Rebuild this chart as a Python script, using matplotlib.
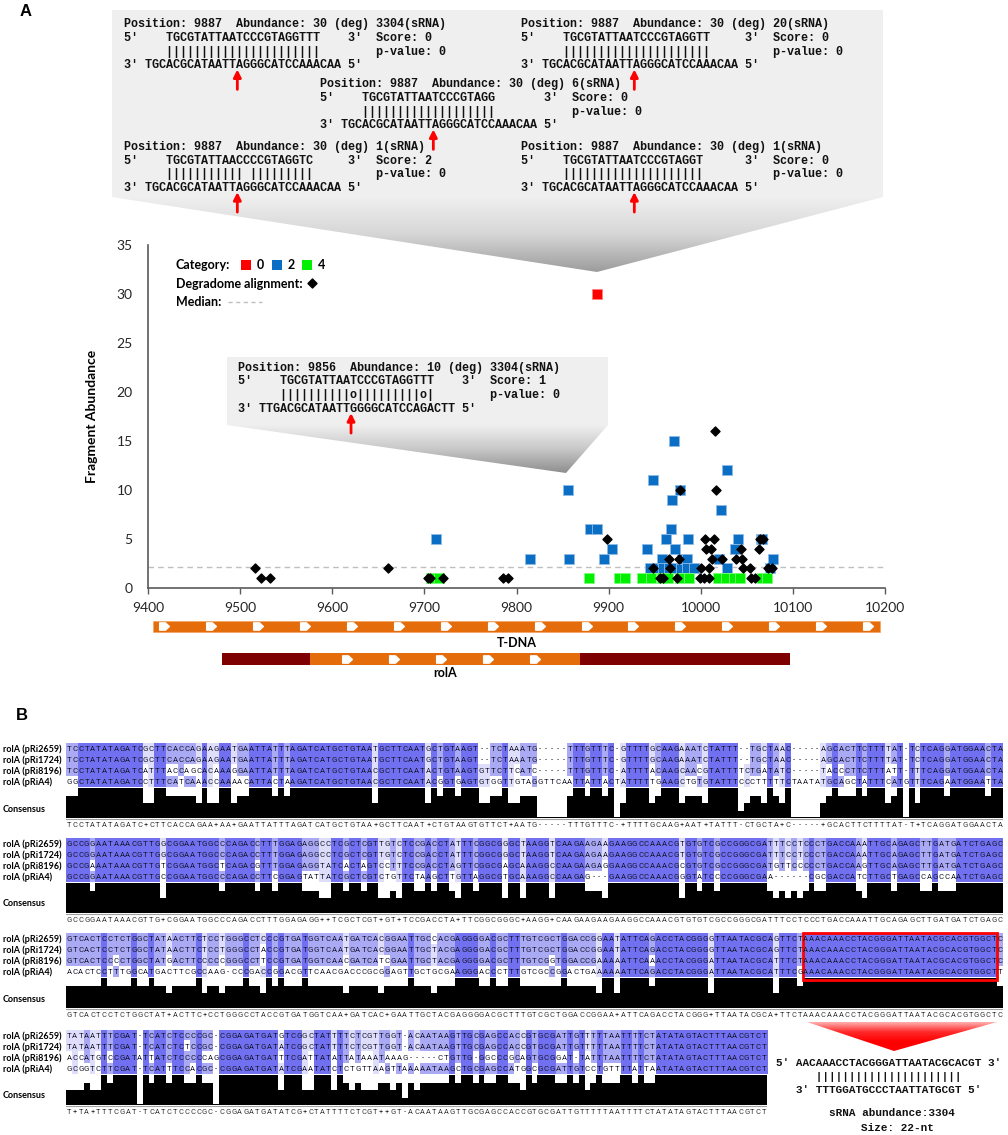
import numpy as np
import matplotlib
matplotlib.use("Agg")
import matplotlib.pyplot as plt
from matplotlib.patches import Rectangle, Polygon
from matplotlib.path import Path
from matplotlib.colors import LinearSegmentedColormap, to_rgb

plt.rcParams['font.family'] = ['Lato', 'DejaVu Sans']
W, H = 1008, 1135

# ---------------- panel A data ----------------
BLUE_POS = [9713, 9815, 9856, 9857, 9880, 9887, 9895, 9904, 9942, 9945, 9948, 9952, 9958, 9959,
            9962, 9966, 9968, 9969, 9971, 9972, 9972, 9978, 9979, 9980, 9985, 9985, 9986, 9993,
            10020, 10022, 10028, 10029, 10037, 10040, 10065, 10067, 10075, 10078]
BLUE_AB = [5, 3, 10, 3, 6, 6, 3, 4, 4, 2, 11, 2, 3, 2,
           5, 2, 6, 9, 15, 4, 2, 10, 2, 3, 3, 2, 5, 2,
           3, 8, 2, 12, 4, 5, 5, 5, 2, 3]
GREEN_POS = [9707, 9716, 9879, 9911, 9918, 9936, 9946, 9958, 9964, 9978, 9987,
             10019, 10027, 10036, 10043, 10066, 10072]
GREEN_AB = [1] * len(GREEN_POS)
RED_POS = [9887]
RED_AB = [30]
DEG_POS = [9516, 9523, 9532, 9660, 9704, 9706, 9720, 9785, 9791, 9898, 9948, 9956, 9959, 9965,
           9967, 9974, 9976, 9978, 9999, 10000, 10004, 10005, 10006, 10009, 10009, 10011, 10012,
           10014, 10016, 10017, 10023, 10038, 10044, 10045, 10046, 10054, 10055, 10059, 10063,
           10064, 10068, 10073, 10077]
DEG_AB = [2, 1, 1, 2, 1, 1, 1, 1, 1, 5, 2, 1, 1, 3,
          2, 1, 3, 10, 1, 2, 1, 5, 4, 1, 2, 4, 3,
          5, 16, 10, 3, 3, 4, 3, 2, 2, 1, 1, 4,
          5, 5, 2, 2]
MEDIAN = 2.1
X_TICKS = [9400, 9500, 9600, 9700, 9800, 9900, 10000, 10100, 10200]
Y_TICKS = [0, 5, 10, 15, 20, 25, 30, 35]
TDNA_SPAN = (9405, 10195)
ROLA_SEGS = [(9480, 9576, 'utr'), (9576, 9869, 'cds'), (9869, 10097, 'utr')]

# callout texts (degradome alignments)
CALLOUTS = [
    (124, 24, ["Position: 9887  Abundance: 30 (deg) 3304(sRNA)",
               "5'    TGCGTATTAATCCCGTAGGTTT    3'  Score: 0",
               "      ||||||||||||||||||||||        p-value: 0",
               "3' TGCACGCATAATTAGGGCATCCAAACAA 5'"]),
    (521, 24, ["Position: 9887  Abundance: 30 (deg) 20(sRNA)",
               "5'    TGCGTATTAATCCCGTAGGTT     3'  Score: 0",
               "      |||||||||||||||||||||         p-value: 0",
               "3' TGCACGCATAATTAGGGCATCCAAACAA 5'"]),
    (320, 84, ["Position: 9887  Abundance: 30 (deg) 6(sRNA)",
               "5'    TGCGTATTAATCCCGTAGG       3'  Score: 0",
               "      |||||||||||||||||||           p-value: 0",
               "3' TGCACGCATAATTAGGGCATCCAAACAA 5'"]),
    (124, 146.7, ["Position: 9887  Abundance: 30 (deg) 1(sRNA)",
                  "5'    TGCGTATTAACCCCGTAGGTC     3'  Score: 2",
                  "      ||||||||||| |||||||||         p-value: 0",
                  "3' TGCACGCATAATTAGGGCATCCAAACAA 5'"]),
    (521, 146.7, ["Position: 9887  Abundance: 30 (deg) 1(sRNA)",
                  "5'    TGCGTATTAATCCCGTAGGT      3'  Score: 0",
                  "      ||||||||||||||||||||          p-value: 0",
                  "3' TGCACGCATAATTAGGGCATCCAAACAA 5'"]),
    (237.7, 367.7, ["Position: 9856  Abundance: 10 (deg) 3304(sRNA)",
                    "5'    TGCGTATTAATCCCGTAGGTTT    3'  Score: 1",
                    "      ||||||||||o|||||||||o|        p-value: 0",
                    "3' TTGACGCATAATTGGGGCATCCAGACTT 5'"]),
]

# ---------------- panel B data ----------------
SEQ_NAMES = ['rolA (pRi2659)', 'rolA (pRi1724)', 'rolA (pRi8196)', 'rolA (pRiA4)']

B1_CONS = "TCCTATATAGATC+CTTCACCAGAA+AA+GAATTATTTAGATCATGCTGTAA+GCTTCAAT+CTGTAAGTGTTCT+AATG-----TTTGTTTC-+TTTTGCAAG+AAT+TATTT-CTGCTA+C-----+GCACTTCTTTTAT-T+TCAGGATGGAACTA"
B1_ROWS = [
    "TCCTATATAGATC G CTTCACCAGAA G AA T GAATTATTTAGATCATGCTGTAA T GCTTCAAT G CTGTAAGT--TCT A AATG ----- TTTGTTTC - G TTTTGCAAG A AAT C TATTT - -TGCTA A C ----- A GCACTTCTTTTAT - T C TCAGGATGGAACTA",
    "TCCTATATAGATC G CTTCACCAGAA G AA T GAATTATTTAGATCATGCTGTAA T GCTTCAAT G CTGTAAGT--TCT A AATG ----- TTTGTTTC - G TTTTGCAAG A AAT C TATTT - -TGCTA A C ----- A GCACTTCTTTTAT - T C TCAGGATGGAACTA",
    "TCCTATATAGATC A TTTACCAGCAC A AA G GAATTATTTAGATCATGCTGTAA C GCTTCAAT A CTGTAAGTGTTCT T CATC ----- TTTGTTTC - A TTTTACAAG C AAC G TATTT T CTGATA T C ----- T ACCCTTCTTTATT - T T TCAGGATGGAACTA",
    "GGCTATATAGATC C TTTCATCAAAC C AA A ACATTACTAAGATCATGCTGTAA C GCTTCAAT A CGGTGAGTGTGGT T GTAG GTTCA ATTATTAC T A TTTTTGAAG C TGT G TATTT C CCTTTT T C TAATA T GCAGCTATTTCAT G T T TCAGAATGGAATTA",
]
B2_CONS = "GCCGGAATAAACGTTG+CGGAATGGCCCAGACCTTTGGAGAGG++TCGCTCGT+GT+TCCGACCTA+TTCGGCGGGC+AAGG+CAAGAAGAAGAAGGCCAAACGTGTGTCGCCGGGCGATTTCCTCCCTGACCAAATTGCAGAGCTTGATGATCTGAGC"
B2_ROWS = [
    "GCCGGAATAAACGTTG G CGGAATGGCCCAGACCTTTGGAGAGG CC TCGCTCGT T GT C TCCGACCTA T TTCGGCGGGC T AAGG T CAAGAAGAAGAAGGCCAAACG TGTGTCGCCGGGCGATTTCC TCCCTGACCAAATTGCAGAG CTTGATGATCTGAGC",
    "GCCGGAATAAACGTTG G CGGAATGGCCCAGACCTTTGGAGAGG CC TCGCTCGT T GT C TCCGACCTA T TTCGGCGGGC T AAGG T CAAGAAGAAGAAGGCCAAACG TGTGTCGCCGGGCGATTTCC TCCCTGACCAAATTGCAGAG CTTGATGATCTGAGC",
    "GCCGAAATAAACGTTG T CGGAATGGCTCAGACGTTTGGAGAGG TA TCACTAGT C CT T TCCGACCTA G TTCGGCGAGC A AAGG C CAAGAAGAGGAAGGCCAAACG CGTGTCGCCGGGCGATGTTC CCCCTGACCAAGTTGCAGAG CTTGATGATCTGAGC",
    "GCCGGAATAAACGTTG C CGGAATGGCCCAGACCTTCGGAGTAT TA TCGCTCGT C TG T TCTAAGCTT G TTAGGCGTGC A AAGG C CAAGAG---GAAGGCCAAACG GGTATCCCCGGGCGAA---- --CGCGACCATCTTGCTGAG CCAGCCAATCTGAGC",
]
B3_CONS = "GTCACTCCTCTGGCTAT+ACTTC+CCTGGGCCTACCGTGATGGTCAA+GATCAC+GAATTGCTACGAGGGGACGCTTTGTCGCTGGACCGGAA+ATTCAGACCTACGGG+TTAATACGCA+TTCTAAACAAACCTACGGGATTAATACGCACGTGGCTC"
B3_ROWS = [
    "GTCACTCCTCTGGCTAT A ACTTC T CCTGGGCCTCCCGTGATGGTCAA T GATCAC G GAATTGCCACGAGGGGACGCTTTGTCGCTGGACCGGAA T ATTCAGACCTACGGG G TTAATACGCA G TTCT AAACAAACCTACGGGATTAATACGCACGTGGCTC",
    "GTCACTCCTCTGGCTAT A ACTTC T CCTGGGCCTACCGTGATGGTCAA T GATCAC G GAATTGCTACGAGGGGACGCTTTGTCGCTGGACCGGAA T ATTCAGACCTACGGG G TTAATACGCA G TTCT AAACAAACCTACGGGATTAATACGCACGTGGCTC",
    "GTCACTCCCCTGGCTAT G ACTTC C CCCGGGCCTTCCGTGATGGTCAA C GATCAT C GAATTGCTACGAGGGGACGCTTTGTCGGTGGACCGAAA A ATTCAAACCTACGGG A TTAATACGCA T TTCT AAACAAACCTACGGGATTAATACGCACGTGGCTC",
    "ACACTCCTTTGGCATGA C TTCGC C AAG-CCCGACCGGACGTTCAACG A CCCGCG G AGTTGCTGCGAAGGGACCCTTTGTCGCCGGACTGAAAA A ATTCAGACCTACGGG A TTAATACGCA T TTCG AAACAAACCTACGGGATTAATACGCACGTGGCTT",
]
B4_CONS = "T+TA+TTTCGAT-TCATCTCCCCGC-CGGAGATGATATCG+CTATTTTCTCGT++GT-ACAATAAGTTGCGAGCCACCGTGCGATTGTTTTTAATTTTCTATATAGTACTTTAACGTCT"
B4_ROWS = [
    "TATAATTTCGAT - TCATCTCCCCGC - CGGAGATGATGTCG G CTATTTTCTCGT T G GT - ACAATAAGTTGCGAGCCACCGTGCGATTG TTTTTAATTTTCTATATAGTACTTTAACGTCT",
    "TATAATTTCGAT - TCATCTCTCCGC - CGGAGATGATATCG G CTATTTTCTCGT T G GT - ACAATAAGTTGCGAGCCACCGTGCGATTG TTTTTAATTTTCTATATAGTACTTTAACGTCT",
    "ACCATGTCCGAT A TTATCTCCCCCA G CGGAGATGATTTCG A TTATATTATAAA T A AA G -----CTGTTG-GGCCCGCAGTGCGGAT-TATTTAATTTTCTATATAGTACTTTAACGTCT",
    "GCGGTCTTCGAT - TCATTTCCACGC - CGGAGATGATATCG A ATATCTCTGTTA A G TT A AAAATAAGCTGCGAGCCATGGCGCGATTG TCCTGTTTTATTAATATAGTACTTTAACGTCT",
]
BLOCKS = [(B1_CONS, B1_ROWS), (B2_CONS, B2_ROWS), (B3_CONS, B3_ROWS), (B4_CONS, B4_ROWS)]
BOX_COLS = (125, 158)  # boxed sRNA target site in block 3
SRNA_LINES = ["5' AACAAACCTACGGGATTAATACGCACGT 3'",
              "      ||||||||||||||||||||||",
              "   3' TTTGGATGCCCTAATTATGCGT 5'"]

# ---------------- figure ----------------
fig = plt.figure(figsize=(W / 100, H / 100), dpi=100)

def px_rect(x0, y0, x1, y1):
    return [x0 / W, 1 - y1 / H, (x1 - x0) / W, (y1 - y0) / H]

# main scatter
ax = fig.add_axes(px_rect(148, 245, 885, 588))
ax.patch.set_alpha(0)
ax.axhline(MEDIAN, color='#bfbfbf', lw=1, ls=(0, (4, 3)), zorder=1)
ax.scatter(BLUE_POS, BLUE_AB, marker='s', s=50, c='#0a6fc4', edgecolors='#8fbbe6', linewidths=0.6, zorder=3)
ax.scatter(GREEN_POS, GREEN_AB, marker='s', s=50, c='#00f000', edgecolors='#7dff7d', linewidths=0.6, zorder=3)
ax.scatter(RED_POS, RED_AB, marker='s', s=50, c='#ff0000', edgecolors='#ff8080', linewidths=0.6, zorder=3)
ax.scatter(DEG_POS, DEG_AB, marker='D', s=21, c='black', zorder=4)
ax.set_xlim(9400, 10200)
ax.set_ylim(0, 35)
ax.set_xticks(X_TICKS)
ax.set_xticklabels([str(t) for t in X_TICKS])
ax.set_yticks(Y_TICKS)
for s in ['top', 'right']:
    ax.spines[s].set_visible(False)
for s in ['left', 'bottom']:
    ax.spines[s].set_color('#5a5a5a')
    ax.spines[s].set_linewidth(1.2)
ax.tick_params(axis='x', length=4, width=1, color='#5a5a5a', pad=6, labelsize=10, labelcolor='#262626')
ax.tick_params(axis='y', length=0, pad=11, labelsize=10, labelcolor='#262626')
ax.set_ylabel('Fragment Abundance', fontsize=10, fontweight='bold')
ax.yaxis.set_label_coords((98 - 148) / 737, 0.5)

# gene track
axg = fig.add_axes(px_rect(148, 612, 885, 682))
axg.set_xlim(9400, 10200)
axg.set_ylim(70, 0)
axg.axis('off')
chev = Path([(-1, -0.75), (0.2, -0.75), (1, 0), (0.2, 0.75), (-1, 0.75), (-1, -0.75)],
            [Path.MOVETO, Path.LINETO, Path.LINETO, Path.LINETO, Path.LINETO, Path.CLOSEPOLY])
axg.barh(14.2, TDNA_SPAN[1] - TDNA_SPAN[0], left=TDNA_SPAN[0], height=11, color='#e46c0a',
         edgecolor='#f4a460', linewidth=0.5)
tx = np.arange(TDNA_SPAN[0] + 12, TDNA_SPAN[1] - 5, 51)
axg.plot(tx, np.full(len(tx), 14.2), ls='none', marker=chev, ms=7, color='white')
axg.text(sum(TDNA_SPAN) / 2, 31, 'T-DNA', ha='center', va='center', fontsize=9, fontweight='bold')
for start, end, kind in ROLA_SEGS:
    axg.barh(47, end - start, left=start, height=12,
             color='#e46c0a' if kind == 'cds' else '#7f0000', edgecolor='none')
    if kind == 'cds':
        rx = np.arange(start + 40, end - 20, 51)
        axg.plot(rx, np.full(len(rx), 47), ls='none', marker=chev, ms=7, color='white')
        axg.text((start + end) / 2, 61, 'rolA', ha='center', va='center', fontsize=9, fontweight='bold')

# alignment blocks
COLW = (1003 - 66) / 159
BLOCK_TOPS = [743, 838, 933, 1030]
LEVEL_COLORS = {4: '#7070f0', 3: '#a9a9f4', 2: '#dedefa', 1: '#ffffff'}

for bi, ((cons, rows_raw), top) in enumerate(zip(BLOCKS, BLOCK_TOPS)):
    n = len(cons)
    rows = [''.join(r.split()).ljust(n, '-')[:n] for r in rows_raw]
    axb = fig.add_axes(px_rect(66, top, 66 + n * COLW, top + 90))
    rgb = np.ones((4, n, 3))
    heights = np.zeros(n)
    for c in range(n):
        col = [r[c] for r in rows]
        res = [ch for ch in col if ch != '-']
        counts = {ch: res.count(ch) for ch in set(res)}
        for i, ch in enumerate(col):
            if ch != '-':
                rgb[i, c] = to_rgb(LEVEL_COLORS[counts[ch]])
        heights[c] = 0.04 if len(res) <= 1 else max(counts.values()) / 4
    axb.imshow(rgb, extent=(0, n, 44, 0), aspect='auto', interpolation='nearest')
    for i, r in enumerate(rows):
        for c, ch in enumerate(r):
            axb.text(c + 0.5, i * 11 + 5.8, ch, ha='center', va='center', fontsize=5.6,
                     family='Roboto', color='#15152a')
    axb.bar(np.arange(n) + 0.5, -heights * 30, bottom=75, width=1.0, color='black', linewidth=0)
    axb.axhline(75.5, color='#a0a0a0', lw=0.8)
    for c, ch in enumerate(cons):
        axb.text(c + 0.5, 82.5, ch, ha='center', va='center', fontsize=5.4,
                 family='Roboto', color='#303030')
    if bi == 2:
        axb.add_patch(Rectangle((BOX_COLS[0], 0.3), BOX_COLS[1] - BOX_COLS[0], 46.5,
                                fill=False, ec='red', lw=2, clip_on=False))
    axb.set_xlim(0, n)
    axb.set_ylim(90, 0)
    axb.axis('off')

# overlay in pixel coordinates for annotations
ov = fig.add_axes([0, 0, 1, 1])
ov.patch.set_alpha(0)

def gradient_poly(verts, colors):
    poly = Polygon(verts, closed=True, fc='none', ec='none')
    ov.add_patch(poly)
    xs = [v[0] for v in verts]
    ys = [v[1] for v in verts]
    grad = np.linspace(0, 1, 200).reshape(-1, 1)
    cmap = LinearSegmentedColormap.from_list('g', colors)
    im = ov.imshow(grad, cmap=cmap, extent=(min(xs), max(xs), max(ys), min(ys)),
                   aspect='auto', origin='upper', interpolation='bilinear')
    im.set_clip_path(poly)

BOX_BG = '#efefef'
ov.add_patch(Rectangle((112, 10), 771, 187, fc=BOX_BG, ec='none'))
gradient_poly([(112, 197), (883, 197), (597, 272)], [BOX_BG, '#d6d6d6', '#9c9c9c'])
ov.add_patch(Rectangle((227, 357), 381, 68, fc=BOX_BG, ec='none'))
gradient_poly([(227, 425), (608, 425), (566, 473)], [BOX_BG, '#c8c8c8', '#8e8e8e'])
gradient_poly([(807, 1022), (997, 1022), (894, 1051)], ['#ffb0b0', '#ff2a2a', '#ff0000', '#ff0000'])

CHW = 8.5 * 100 / 72 * 0.6
LINE_DY = 13.8
for x0, y0, lines in CALLOUTS:
    for k, line in enumerate(lines):
        ov.text(x0, y0 + k * LINE_DY, line, ha='left', va='center', fontsize=8.5,
                family='Liberation Mono', fontweight='bold', color='#111111')
    ax_x = x0 + 16 * CHW
    tip = y0 + 3 * LINE_DY + 4
    ov.annotate('', xy=(ax_x, tip), xytext=(ax_x, tip + 20),
                arrowprops=dict(arrowstyle='-|>', color='red', lw=2, mutation_scale=11,
                                shrinkA=0, shrinkB=0))

# legend of panel A
ov.text(176, 265, 'Category:', ha='left', va='center', fontsize=9, fontweight='bold')
for xm, lab, colr in [(246, '0', '#ff0000'), (277, '2', '#0a6fc4'), (307, '4', '#00f000')]:
    ov.scatter([xm], [265], marker='s', s=50, c=colr, edgecolors='none')
    ov.text(xm + 11, 265, lab, ha='left', va='center', fontsize=9, fontweight='bold')
ov.text(176, 283.5, 'Degradome alignment:', ha='left', va='center', fontsize=9, fontweight='bold')
ov.scatter([312], [283], marker='D', s=21, c='black')
ov.text(176, 302, 'Median:', ha='left', va='center', fontsize=9, fontweight='bold')
ov.plot([228, 262], [302, 302], color='#bfbfbf', lw=1, ls=(0, (3, 2.5)))

# panel labels
ov.text(20, 12, 'A', ha='left', va='center', fontsize=12, fontweight='bold', family='Liberation Sans')
ov.text(22, 715, 'B', ha='center', va='center', fontsize=12, fontweight='bold', family='Liberation Sans')

# alignment row labels
for top in BLOCK_TOPS:
    for i, name in enumerate(SEQ_NAMES):
        ov.text(3, top + i * 11 + 6, name, ha='left', va='center', fontsize=6.5, fontweight='bold')
    ov.text(3, top + 66, 'Consensus', ha='left', va='center', fontsize=6.5, fontweight='bold')

# sRNA duplex
for k, line in enumerate(SRNA_LINES):
    ov.text(776, 1063 + k * 13.5, line, ha='left', va='center', fontsize=7.9,
            family='Liberation Mono', fontweight='bold', color='#111111')
ov.text(892, 1113, 'sRNA abundance:3304', ha='center', va='center', fontsize=7.9,
        family='Liberation Mono', fontweight='bold', color='#111111')
ov.text(897, 1128, 'Size: 22-nt', ha='center', va='center', fontsize=7.9,
        family='Liberation Mono', fontweight='bold', color='#111111')

ov.set_xlim(0, W)
ov.set_ylim(H, 0)
ov.axis('off')

fig.savefig('out.png', dpi=100)
